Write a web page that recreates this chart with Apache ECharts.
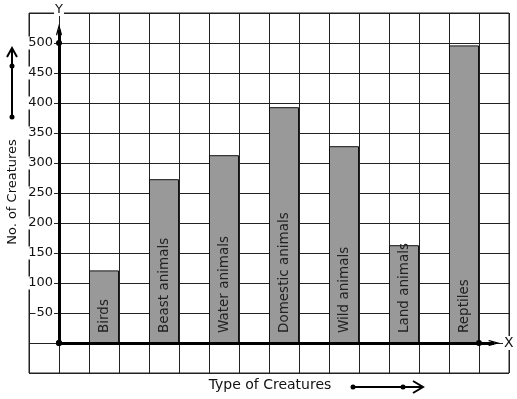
<!DOCTYPE html>
<html lang="en">
<head>
<meta charset="UTF-8">
<title>Type of Creatures</title>
<style>
  html, body { margin: 0; padding: 0; background: #fff; }
  #main { width: 517px; height: 399px; }
</style>
</head>
<body>
<div id="main"></div>
<script src="https://cdn.jsdelivr.net/npm/echarts/dist/echarts.min.js"></script>
<script>
// data
var creatures = ['Birds', 'Beast animals', 'Water animals', 'Domestic animals', 'Wild animals', 'Land animals', 'Reptiles'];
var counts = [121, 273, 313, 393, 328, 163, 496];
var yTicks = [50, 100, 150, 200, 250, 300, 350, 400, 450, 500];

var font = 'DejaVu Sans';
// open arrow head, pointing up
var chevron = 'path://M5.5,0 L11,9.5 L9.1,10.6 L5.5,4.2 L1.9,10.6 L0,9.5 Z';

var bars = [];
for (var i = 0; i < creatures.length; i++) {
    // one bar every second grid column, starting after the y axis
    bars.push({ name: creatures[i], value: [1.5 + 2 * i, counts[i]] });
}

var myChart = echarts.init(document.getElementById('main'));
myChart.setOption({
    animation: false,
    textStyle: { fontFamily: font },
    grid: {
        left: 29, right: 8, top: 13, bottom: 26,
        containLabel: false, outerBoundsMode: 'none',
        show: true, borderColor: '#222', borderWidth: 1
    },
    xAxis: {
        type: 'value', min: -1, max: 15, interval: 1,
        name: 'X', nameLocation: 'end', nameGap: -6,
        nameTextStyle: { fontFamily: font, fontSize: 14, color: '#111', backgroundColor: '#fff', padding: [0, 1] },
        axisLine: { show: true, onZero: true, lineStyle: { color: 'rgba(0,0,0,0)' } },
        axisTick: { show: false },
        axisLabel: { show: false },
        splitLine: { show: true, lineStyle: { color: '#222', width: 1 } }
    },
    yAxis: {
        type: 'value', min: -50, max: 550, interval: 50,
        // the y axis stands one grid column in from the left edge
        offset: -30,
        name: 'Y', nameLocation: 'end', nameGap: -3,
        nameTextStyle: { fontFamily: font, fontSize: 13, color: '#111', backgroundColor: '#fff', padding: [0, 1], align: 'center' },
        axisLine: { show: true, onZero: false, lineStyle: { color: 'rgba(0,0,0,0)' } },
        axisTick: { show: false },
        axisLabel: {
            margin: 5, fontFamily: font, fontSize: 13, color: '#111',
            backgroundColor: '#fff', padding: [0, 1],
            formatter: function (v) { return yTicks.indexOf(v) >= 0 ? String(v) : ''; }
        },
        splitLine: { show: true, lineStyle: { color: '#222', width: 1 } }
    },
    series: [{
        type: 'bar',
        barWidth: 30,
        data: bars,
        itemStyle: { color: '#999999', borderColor: '#111', borderWidth: 1 },
        label: {
            show: true, position: 'insideBottom', rotate: 90,
            align: 'left', verticalAlign: 'middle', distance: 10,
            fontFamily: font, fontSize: 13.5, color: '#222',
            formatter: '{b}'
        },
        markLine: {
            silent: true,
            symbol: ['circle', chevron],
            symbolSize: [6, 12],
            label: { show: false },
            lineStyle: { color: '#000', width: 3, type: 'solid' },
            data: [
                [{ coord: [0, 0] }, { coord: [0, 522] }],
                [{ coord: [0, 0] }, { coord: [14.5, 0] }]
            ]
        },
        markPoint: {
            silent: true,
            symbol: 'circle', symbolSize: 6,
            itemStyle: { color: '#000' },
            label: { show: false },
            data: [{ coord: [0, 500] }, { coord: [14, 0] }]
        }
    }],
    graphic: [
        // y title with its little arrow
        { type: 'text', x: 13, y: 192, rotation: Math.PI / 2, z: 100,
          style: { text: 'No. of Creatures', font: '13px "DejaVu Sans"', fill: '#111', align: 'center', verticalAlign: 'middle' } },
        { type: 'line', shape: { x1: 12, y1: 117, x2: 12, y2: 49 }, style: { stroke: '#000', lineWidth: 2 } },
        { type: 'polyline', shape: { points: [[7, 57], [12, 48], [17, 57]] }, style: { stroke: '#000', lineWidth: 2, fill: null } },
        { type: 'circle', shape: { cx: 12, cy: 117, r: 2.5 }, style: { fill: '#000' } },
        { type: 'circle', shape: { cx: 12, cy: 66, r: 2.5 }, style: { fill: '#000' } },
        // x title with its little arrow
        { type: 'text', x: 270, y: 385,
          style: { text: 'Type of Creatures', font: '14px "DejaVu Sans"', fill: '#111', align: 'center', verticalAlign: 'middle' } },
        { type: 'line', shape: { x1: 353, y1: 387, x2: 422, y2: 387 }, style: { stroke: '#000', lineWidth: 2 } },
        { type: 'polyline', shape: { points: [[413, 381], [423, 387], [413, 393]] }, style: { stroke: '#000', lineWidth: 2, fill: null } },
        { type: 'circle', shape: { cx: 353, cy: 387, r: 2.5 }, style: { fill: '#000' } },
        { type: 'circle', shape: { cx: 403, cy: 387, r: 2.5 }, style: { fill: '#000' } }
    ]
});
</script>
</body>
</html>
